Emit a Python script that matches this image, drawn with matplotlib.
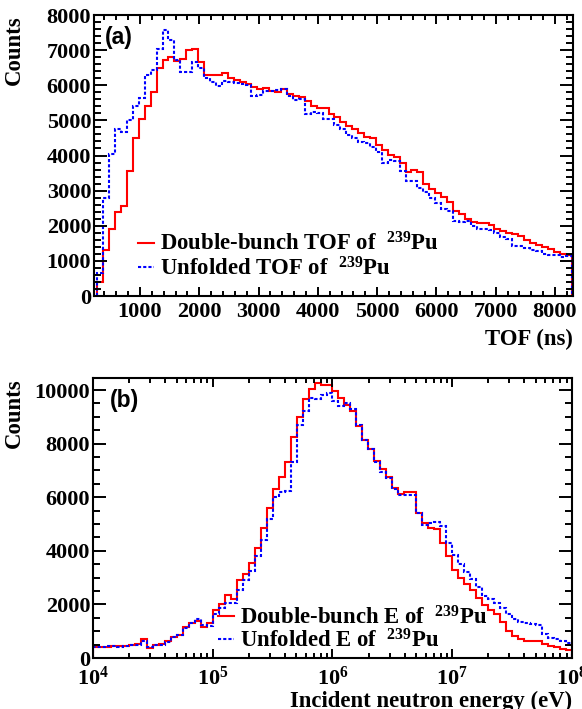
import numpy as np
import matplotlib
matplotlib.use("Agg")
import matplotlib.pyplot as plt
from matplotlib.ticker import MultipleLocator, LogLocator

# --- data -----------------------------------------------------------------
# (a) TOF spectra, 100 ns bins starting at 280 ns
tof_start, tof_width = 280, 100
tof_double = [400, 1300, 1900, 2380, 2550, 3550, 4500, 5050, 5420, 5820,
              6500, 6730, 6800, 6680, 6750, 7000, 7040, 6650, 6280, 6280,
              6300, 6350, 6220, 6150, 6080, 6050, 5940, 5880, 5930, 5850,
              5800, 5900, 5760, 5700, 5660, 5540, 5410, 5360, 5340, 5180,
              5100, 4960, 4840, 4760, 4650, 4520, 4500, 4290, 4170, 4020,
              3950, 3800, 3530, 3590, 3540, 3200, 3040, 2930, 2820, 2680,
              2430, 2330, 2190, 2120, 2080, 2070, 2010, 1920, 1860, 1790,
              1760, 1700, 1590, 1520, 1440, 1390, 1330, 1260, 1210, 1170]
tof_unfolded = [650, 2800, 4050, 4750, 4680, 5000, 5420, 5650, 6300, 6440,
                7040, 7580, 7300, 6720, 6370, 6370, 6650, 6500, 6200, 6100,
                5980, 6130, 6100, 6070, 6050, 6000, 5700, 5720, 5840, 5840,
                5870, 5890, 5700, 5580, 5620, 5190, 5240, 5220, 5040, 5050,
                4880, 4750, 4580, 4510, 4380, 4360, 4250, 4110, 3780, 3870,
                3840, 3550, 3280, 3280, 3080, 2960, 2800, 2640, 2470, 2430,
                2130, 2110, 2130, 1980, 1920, 1900, 1890, 1800, 1690, 1630,
                1420, 1410, 1360, 1320, 1290, 1200, 1170, 1160, 1110, 1140]

# (b) energy spectra, 20 log bins per decade from 1e4 to 1e8 eV
e_lo, e_hi, e_per_decade = 4, 8, 20
e_double = [410, 420, 420, 450, 430, 460, 480, 520, 720, 380,
            480, 520, 620, 800, 870, 1150, 1290, 1370, 1150, 1300,
            1800, 2000, 2350, 2200, 2900, 3150, 3550, 4100, 4850, 5600,
            6300, 6750, 7300, 8230, 9000, 9680, 10050, 10280, 10200, 10190,
            9950, 9700, 9450, 9200, 8650, 8150, 7800, 7350, 7050, 6750,
            6350, 6120, 6200, 6200, 5400, 5030, 4850, 4800, 4300, 3800,
            3300, 3000, 2750, 2520, 2250, 1980, 1780, 1640, 1350, 1000,
            820, 700, 620, 620, 620, 520, 450, 410, 350, 310]
e_unfolded = [400, 410, 430, 440, 420, 450, 470, 500, 650, 420,
              470, 500, 600, 780, 860, 1120, 1300, 1450, 1250, 1200,
              1650, 1850, 2050, 2050, 2550, 2900, 3250, 3800, 4400, 5200,
              6000, 6200, 6250, 7300, 8700, 9200, 9700, 9650, 9800, 9900,
              9600, 9400, 9500, 9300, 8700, 8150, 7800, 7300, 6950, 6700,
              6300, 6100, 6100, 6100, 5400, 4970, 5030, 5090, 4910, 4300,
              3850, 3500, 3200, 2950, 2650, 2300, 2200, 2050, 1870, 1650,
              1450, 1350, 1300, 1280, 1220, 900, 760, 700, 650, 570]

tof_edges = tof_start + tof_width * np.arange(len(tof_double) + 1)
e_edges = np.logspace(e_lo, e_hi, (e_hi - e_lo) * e_per_decade + 1)

# --- style ------------------------------------------------------------------
plt.rcParams['font.family'] = ['Liberation Serif', 'DejaVu Serif']
plt.rcParams['font.weight'] = 'bold'
plt.rcParams['axes.labelweight'] = 'bold'
plt.rcParams['mathtext.fontset'] = 'custom'
plt.rcParams['mathtext.rm'] = 'Liberation Serif:bold'
plt.rcParams['mathtext.it'] = 'Liberation Serif:bold'
plt.rcParams['mathtext.bf'] = 'Liberation Serif:bold'
plt.rcParams['mathtext.default'] = 'regular'
plt.rcParams['axes.linewidth'] = 1.5

RED = '#ff0000'
BLUE = '#0000ff'
TICKFS = 16
LABFS = 16.4


def style_axes(ax):
    ax.tick_params(which='both', direction='in', top=True, right=True,
                   width=1.4, labelsize=TICKFS)
    ax.tick_params(axis='x', which='major', length=6.5, pad=4)
    ax.tick_params(axis='x', which='minor', length=3.5)
    ax.tick_params(axis='y', which='major', length=9.5, pad=2)
    ax.tick_params(axis='y', which='minor', length=5)


fig = plt.figure(figsize=(5.82, 7.09), dpi=100)

# ---- panel (a) ----
ax1 = fig.add_axes([0.1615, 0.5825, 0.823, 0.3963])
ax1.stairs(tof_double, tof_edges, baseline=0, color=RED, lw=1.5,
           label=r'Double-bunch TOF of  $^{239}$Pu')
ax1.stairs(tof_unfolded, tof_edges, baseline=0, color=BLUE, lw=1.5,
           linestyle=(0, (1.5, 1.0)), label=r'Unfolded TOF of  $^{239}$Pu')
ax1.set_xlim(224, 8304)
ax1.set_ylim(0, 8000)
ax1.xaxis.set_major_locator(MultipleLocator(1000))
ax1.xaxis.set_minor_locator(MultipleLocator(200))
ax1.yaxis.set_major_locator(MultipleLocator(1000))
ax1.yaxis.set_minor_locator(MultipleLocator(200))
style_axes(ax1)
ax1.set_xticks([1000, 2000, 3000, 4000, 5000, 6000, 7000, 8000])
ax1.set_xlabel('TOF (ns)', fontsize=LABFS, loc='right')
ax1.xaxis.set_label_coords(1.0, -0.117)
ax1.set_ylabel('Counts', fontsize=LABFS, loc='top')
ax1.yaxis.set_label_coords(-0.144, 1.0)
ax1.text(0.023, 0.92, '(a)', transform=ax1.transAxes, fontsize=16.5,
         family='Liberation Sans', weight='bold', va='center', ha='left')
ax1.legend(loc='center left', bbox_to_anchor=(0.092, 0.1406), frameon=False,
           fontsize=LABFS, handlelength=0.7, handletextpad=0.25,
           borderpad=0, borderaxespad=0, labelspacing=0.05)

# ---- panel (b) ----
ax2 = fig.add_axes([0.1598, 0.0719, 0.823, 0.395])
ax2.stairs(e_double, e_edges, baseline=0, color=RED, lw=1.5,
           label=r'Double-bunch E of  $^{239}$Pu')
ax2.stairs(e_unfolded, e_edges, baseline=0, color=BLUE, lw=1.5,
           linestyle=(0, (1.5, 1.0)), label=r'Unfolded E of  $^{239}$Pu')
ax2.set_xscale('log')
ax2.set_xlim(1e4, 1e8)
ax2.set_ylim(0, 10450)
ax2.xaxis.set_major_locator(LogLocator(base=10, numticks=10))
ax2.xaxis.set_minor_locator(LogLocator(base=10, subs=np.arange(2, 10), numticks=20))
ax2.yaxis.set_major_locator(MultipleLocator(2000))
ax2.yaxis.set_minor_locator(MultipleLocator(500))
style_axes(ax2)
ax2.tick_params(axis='x', which='major', pad=6.5)
ax2.set_xlabel('Incident neutron energy (eV)', fontsize=LABFS, loc='right')
ax2.xaxis.set_label_coords(1.0, -0.117)
ax2.set_ylabel('Counts', fontsize=LABFS, loc='top')
ax2.yaxis.set_label_coords(-0.142, 1.0)
ax2.text(0.035, 0.92, '(b)', transform=ax2.transAxes, fontsize=16.5,
         family='Liberation Sans', weight='bold', va='center', ha='left')
ax2.legend(loc='center left', bbox_to_anchor=(0.261, 0.1036), frameon=False,
           fontsize=LABFS, handlelength=0.7, handletextpad=0.25,
           borderpad=0, borderaxespad=0, labelspacing=0.0)

fig.savefig('out.png', dpi=100)
